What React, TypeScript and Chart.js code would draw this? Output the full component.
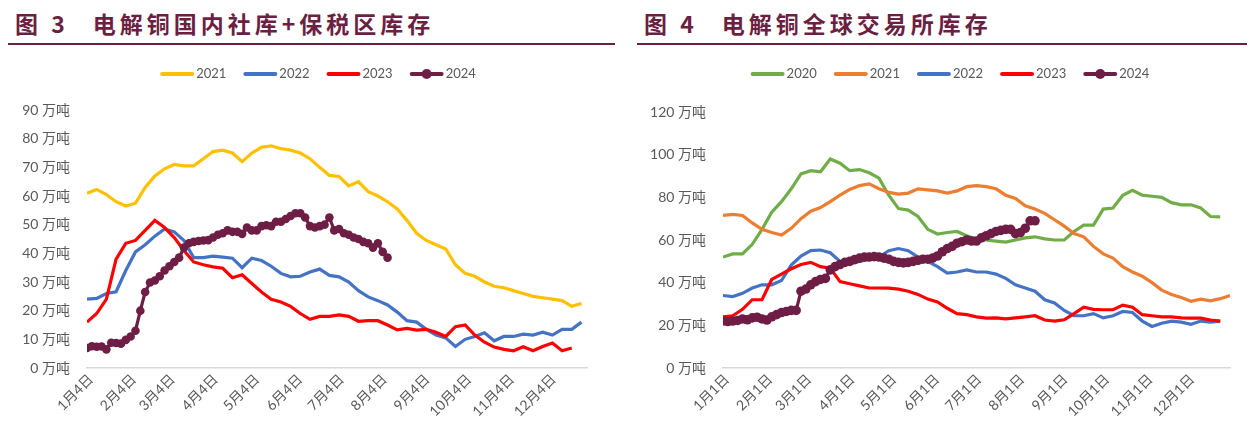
import React, { useEffect, useRef } from 'react';
import { Chart, registerables } from 'chart.js';

Chart.register(...registerables);

// ---------- 图3 电解铜国内社库+保税区库存 (万吨) ----------
const leftTickLabels = ['1月4日', '2月4日', '3月4日', '4月4日', '5月4日', '6月4日', '7月4日', '8月4日', '9月4日', '10月4日', '11月4日', '12月4日'];
const leftTickDays = [0, 31, 59, 90, 120, 151, 181, 212, 243, 273, 304, 334];
const leftYTicks = [0, 10, 20, 30, 40, 50, 60, 70, 80, 90];

// weekly values
const domestic2021 = [61, 62.3, 60.5, 58, 56.5, 57.5, 63, 67, 69.5, 71, 70.5, 70.5, 73, 75.5, 76, 75, 72, 75, 77, 77.5, 76.5, 76, 75, 73, 70, 67.2, 66.8, 63.5, 65, 61.5, 60, 58, 55.5, 51.5, 47, 44.5, 43, 41.5, 36, 33, 32, 30, 28.5, 28, 27, 26, 25, 24.5, 24, 23.5, 21.5, 22.5];
const domestic2022 = [24, 24.3, 26, 26.6, 34, 40.5, 43, 46, 48.5, 47.5, 44.5, 38.5, 38.5, 39, 38.7, 38.3, 35, 38.3, 37.5, 35.5, 33, 31.8, 32, 33.5, 34.5, 32.3, 31.8, 30, 27, 24.8, 23.5, 22, 19.5, 16.5, 16, 13.5, 11.5, 10.5, 7.5, 10, 11, 12.3, 9.5, 11, 11, 11.8, 11.5, 12.5, 11.5, 13.5, 13.5, 16];
const domestic2023 = [16, 19, 24, 38, 43.5, 44.5, 48, 51.5, 49, 45.5, 41, 37, 36, 35.3, 34.8, 31.5, 32.5, 29.5, 26.5, 24, 23, 21.5, 19, 17, 18, 18, 18.5, 18, 16.3, 16.5, 16.5, 15, 13.3, 13.8, 13.2, 13.5, 12.5, 11, 14.4, 15, 11.5, 9, 7.3, 6.5, 6, 7.4, 6, 7.5, 8.7, 6, 7];
// twice-weekly values
const domestic2024 = [7, 7.6, 7.4, 7.5, 6.5, 8.8, 8.7, 8.5, 9.8, 11, 13, 20, 26.5, 29.8, 30.5, 32, 34, 35.5, 37, 38.5, 42, 43.5, 44, 44.3, 44.5, 44.6, 45.5, 46.5, 47, 48, 47.5, 47.5, 46.8, 49, 48, 48, 49.5, 49.8, 49.5, 51, 51, 52, 53, 54, 54, 52.5, 49.5, 49, 49.5, 50, 52.5, 48, 48.5, 47, 46.5, 45.5, 45, 44, 43.5, 42, 43.5, 40.5, 38.5];

// ---------- 图4 电解铜全球交易所库存 (万吨) ----------
const rightTickLabels = ['1月1日', '2月1日', '3月1日', '4月1日', '5月1日', '6月1日', '7月1日', '8月1日', '9月1日', '10月1日', '11月1日', '12月1日'];
const rightTickDays = [0, 31, 59, 90, 120, 151, 181, 212, 243, 273, 304, 334];
const rightYTicks = [0, 20, 40, 60, 80, 100, 120];

// weekly values
const global2020 = [52, 53.5, 53.5, 58, 65, 73, 78, 84, 91, 92.5, 92, 98, 96, 92.5, 93, 91.5, 89, 81, 74.7, 74, 71, 65, 62.8, 63.5, 64, 62, 60.5, 60, 59.5, 59, 60, 61, 61.5, 60.5, 60, 60, 64, 67, 67, 74.5, 75, 81, 83.3, 81, 80.5, 80, 77.5, 76.5, 76.5, 75, 71, 70.8];
const global2021 = [71.5, 72, 71.5, 68, 65, 63.5, 62.3, 65.5, 70, 73.5, 75.2, 78, 81, 83.7, 85.5, 86.3, 84, 82.3, 81.5, 82, 84, 83.5, 83, 82, 83, 85, 85.5, 85, 84, 81, 79.5, 76, 74.5, 72.5, 69.5, 66.5, 63, 61.5, 57, 53.5, 51.5, 47.5, 45, 43, 40, 36.5, 34.5, 33, 31.3, 32.3, 31.5, 32.5, 34];
const global2022 = [34, 33.5, 35, 37.5, 39, 39, 41, 48.3, 52.5, 55, 55.3, 54, 50, 49, 50, 51, 52, 55, 56, 55, 52, 50, 47.5, 44.5, 45, 46, 45, 45, 44, 42, 39, 37.5, 36, 32, 30.5, 27, 24.5, 24.5, 25.5, 23.5, 24.5, 26.5, 26, 22, 19.5, 21, 22, 21.5, 20.5, 22, 21.5, 22];
const global2023 = [24, 24.5, 27.5, 32, 32, 41.5, 44, 46.5, 48.5, 49.5, 47.5, 46.8, 40.5, 39.5, 38.5, 37.5, 37.5, 37.4, 37, 36, 34.5, 32.3, 31, 28, 25.5, 25, 24, 23.4, 23.5, 23, 23.5, 24, 24.5, 22.5, 22, 22.6, 25.5, 28.5, 27.5, 27.3, 27.3, 29.5, 28.5, 25, 24.5, 24, 24, 23.5, 23.4, 23.4, 22.5, 22];
// twice-weekly values
const global2024 = [22, 21.8, 22, 22.3, 23, 22.6, 23.5, 23.8, 23, 22.5, 24, 25, 26, 26.5, 27, 27, 36, 37, 39, 40.5, 41.5, 42, 46, 47.5, 48.5, 49.5, 50, 50.8, 51.5, 52, 52, 52.2, 52, 51.5, 51, 50, 49.5, 49.3, 49.5, 50, 50.5, 51, 51, 51.5, 52.5, 54.5, 56, 57, 58.5, 59.2, 60, 59.5, 59.5, 61, 62, 63, 64, 64.5, 65, 65, 63, 63.5, 65.5, 69, 69];

const MAROON = '#6E1D45';
const TITLE_COLOR = '#6B1F42';
const TEXT_GRAY = '#595959';
const TICK_FONT = 'Lato, "Noto Sans CJK SC", sans-serif';

function series(values: number[], stepDays: number) {
  return values.map((v, i) => ({ x: i * stepDays, y: v }));
}

const lineLegendPlugin = {
  id: 'lineLegend',
  afterDraw(chart: any, _args: any, opts: any) {
    const ctx = chart.ctx as CanvasRenderingContext2D;
    ctx.save();
    ctx.font = `13px ${TICK_FONT}`;
    const lineLen = 34;
    const gap = 2;
    const spacing = 17;
    const items = chart.data.datasets.map((ds: any) => ({
      ds,
      w: lineLen + gap + ctx.measureText(ds.label).width,
    }));
    const total = items.reduce((s: number, it: any) => s + it.w, 0) + spacing * (items.length - 1);
    let x = opts.centerX - total / 2;
    const y = opts.y;
    items.forEach(({ ds, w }: any) => {
      ctx.strokeStyle = ds.borderColor;
      ctx.lineWidth = 4;
      ctx.lineCap = 'round';
      ctx.beginPath();
      ctx.moveTo(x + 2, y);
      ctx.lineTo(x + lineLen - 2, y);
      ctx.stroke();
      if (ds.pointRadius > 0) {
        ctx.fillStyle = ds.borderColor;
        ctx.beginPath();
        ctx.arc(x + lineLen / 2, y, 5, 0, Math.PI * 2);
        ctx.fill();
      }
      ctx.fillStyle = TEXT_GRAY;
      ctx.textAlign = 'left';
      ctx.textBaseline = 'middle';
      ctx.fillText(ds.label, x + lineLen + gap, y);
      x += w + spacing;
    });
    ctx.restore();
  },
};

type Cfg = {
  datasets: any[];
  xMax: number;
  tickDays: number[];
  tickLabels: string[];
  yTicks: number[];
  yWidth: number;
  padding: { top: number; right: number; bottom: number; left: number };
  legendX: number;
};

function buildConfig(c: Cfg): any {
  return {
    type: 'line',
    data: { datasets: c.datasets },
    plugins: [lineLegendPlugin],
    options: {
      responsive: false,
      animation: false,
      events: [],
      layout: { padding: c.padding },
      plugins: {
        legend: { display: false },
        tooltip: { enabled: false },
        lineLegend: { centerX: c.legendX, y: 29 },
      },
      scales: {
        x: {
          type: 'linear',
          min: 0,
          max: c.xMax,
          afterBuildTicks: (s: any) => {
            s.ticks = c.tickDays.map((v) => ({ value: v }));
          },
          afterFit: (s: any) => {
            s.height = 60;
          },
          ticks: {
            autoSkip: false,
            maxRotation: 45,
            minRotation: 45,
            padding: 3,
            labelOffset: 4,
            color: TEXT_GRAY,
            font: { family: TICK_FONT, size: 14 },
            callback: (_v: any, i: number) => c.tickLabels[i],
          },
          grid: { display: false, drawTicks: false },
          border: { display: true, color: '#D9D9D9', width: 1.5 },
        },
        y: {
          min: c.yTicks[0],
          max: c.yTicks[c.yTicks.length - 1],
          afterBuildTicks: (s: any) => {
            s.ticks = c.yTicks.map((v) => ({ value: v }));
          },
          afterFit: (s: any) => {
            s.width = c.yWidth;
          },
          ticks: {
            padding: 17,
            color: TEXT_GRAY,
            font: { family: TICK_FONT, size: 14 },
            callback: (v: any) => `${v} 万吨`,
          },
          grid: { display: false, drawTicks: false },
          border: { display: false },
        },
      },
    },
  };
}

function lineDs(label: string, values: number[], step: number, color: string, order: number, markers = 0) {
  return {
    label,
    data: series(values, step),
    borderColor: color,
    backgroundColor: color,
    borderWidth: 3.2,
    pointRadius: markers,
    pointBorderWidth: 0,
    pointBackgroundColor: color,
    tension: 0,
    order,
  };
}

function ChartCanvas({ config, width, height }: { config: any; width: number; height: number }) {
  const ref = useRef<HTMLCanvasElement>(null);
  useEffect(() => {
    const chart = new Chart(ref.current as HTMLCanvasElement, config);
    return () => chart.destroy();
  }, []);
  return <canvas ref={ref} width={width} height={height} style={{ display: 'block' }} />;
}

function Panel({ figNo, title, width, config }: { figNo: string; title: string; width: number; config: any }) {
  return (
    <div style={{ width }}>
      <div
        style={{
          height: 37,
          borderBottom: `2px solid ${TITLE_COLOR}`,
          color: TITLE_COLOR,
          fontFamily: '"Noto Sans CJK SC", sans-serif',
          fontWeight: 700,
          fontSize: 23,
          lineHeight: '30px',
          paddingLeft: 7,
          whiteSpace: 'nowrap',
          letterSpacing: '4px',
          boxSizing: 'border-box',
        }}
      >
        <span>{figNo}</span>
        <span style={{ marginLeft: 24 }}>{title}</span>
      </div>
      <ChartCanvas config={config} width={width} height={403} />
    </div>
  );
}

export default function App() {
  const leftConfig = buildConfig({
    datasets: [
      lineDs('2021', domestic2021, 7, '#FFC000', 3),
      lineDs('2022', domestic2022, 7, '#4472C4', 2),
      lineDs('2023', domestic2023, 7, '#FF0000', 1),
      lineDs('2024', domestic2024, 3.5, MAROON, 0, 4.3),
    ],
    xMax: 361,
    tickDays: leftTickDays,
    tickLabels: leftTickLabels,
    yTicks: leftYTicks,
    yWidth: 79,
    padding: { top: 65, right: 28, bottom: 20, left: 0 },
    legendX: 310,
  });
  const rightConfig = buildConfig({
    datasets: [
      lineDs('2020', global2020, 7, '#70AD47', 4),
      lineDs('2021', global2021, 7, '#ED7D31', 3),
      lineDs('2022', global2022, 7, '#4472C4', 2),
      lineDs('2023', global2023, 7, '#FF0000', 1),
      lineDs('2024', global2024, 3.5, MAROON, 0, 4.8),
    ],
    xMax: 364,
    tickDays: rightTickDays,
    tickLabels: rightTickLabels,
    yTicks: rightYTicks,
    yWidth: 86,
    padding: { top: 67, right: 17, bottom: 20, left: 0 },
    legendX: 313,
  });
  return (
    <div style={{ display: 'flex', width: 1239 }}>
      <Panel figNo="图 3" title="电解铜国内社库+保税区库存" width={607} config={leftConfig} />
      <div style={{ width: 22, flex: 'none' }} />
      <Panel figNo="图 4" title="电解铜全球交易所库存" width={610} config={rightConfig} />
    </div>
  );
}
